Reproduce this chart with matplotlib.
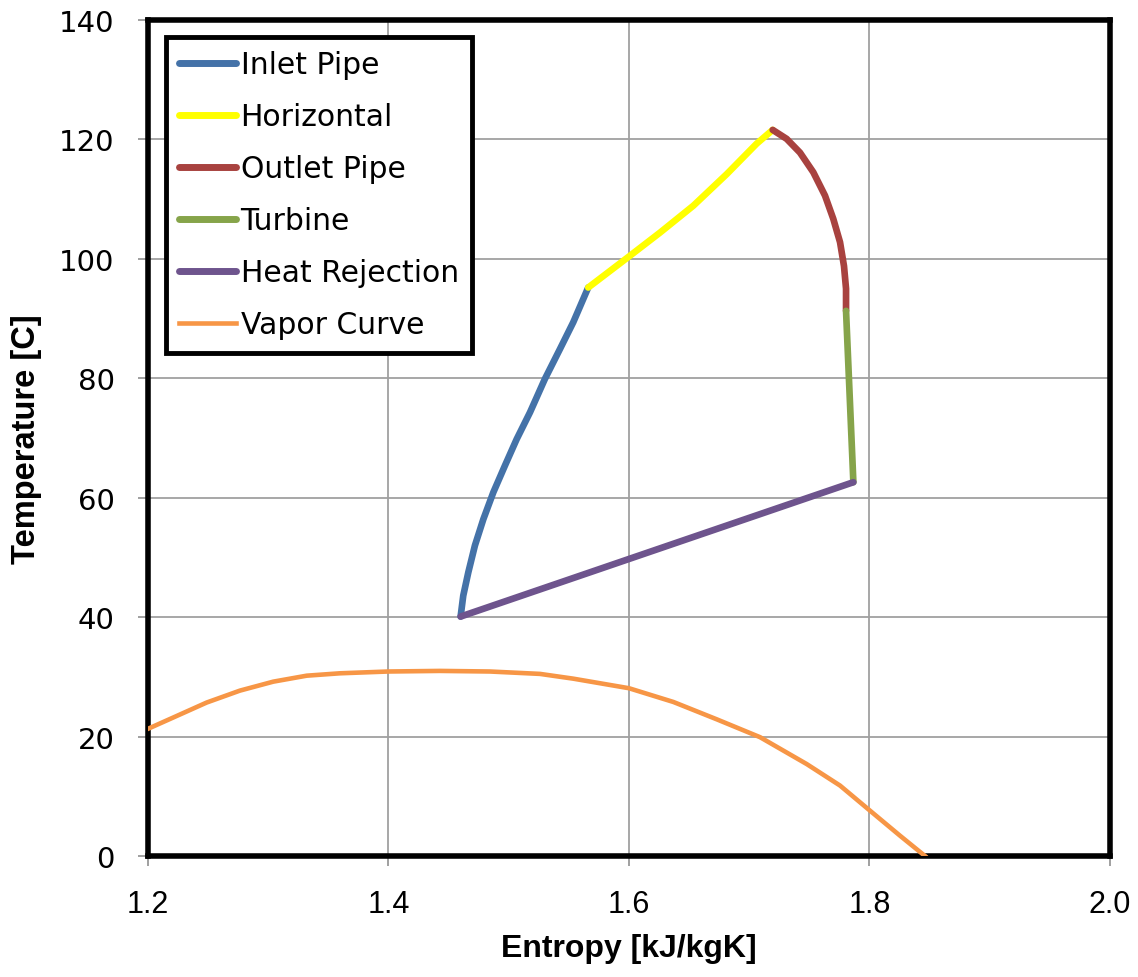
import numpy as np
import matplotlib as mpl
mpl.use('Agg')
import matplotlib.pyplot as plt

# process segments: entropy [kJ/kgK], temperature [C]
inlet_s = [1.4600, 1.4622, 1.4664, 1.4719, 1.4789, 1.4872, 1.4969, 1.5066,
           1.5177, 1.5301, 1.5426, 1.5537, 1.5661]
inlet_t = [40.1, 43.6, 47.5, 52.0, 56.4, 60.9, 65.4, 69.8,
           74.3, 79.9, 84.9, 89.4, 95.2]

horiz_s = [1.5661, 1.6000, 1.6258, 1.6535, 1.6813, 1.7062, 1.7195]
horiz_t = [95.2, 100.4, 104.4, 108.9, 114.2, 119.3, 121.6]

outlet_s = [1.7195, 1.7311, 1.7422, 1.7533, 1.7630, 1.7699, 1.7755, 1.7788,
            1.7805, 1.7805]
outlet_t = [121.6, 120.1, 117.8, 114.5, 110.6, 106.7, 102.8, 98.8,
            95.0, 91.3]

turb_s = [1.7805, 1.7866]
turb_t = [91.3, 62.6]

rej_s = [1.7866, 1.4600]
rej_t = [62.6, 40.1]

vapor_s = [1.2000, 1.2211, 1.2488, 1.2765, 1.3042, 1.3320, 1.3597, 1.3998,
           1.4428, 1.4844, 1.5260, 1.5537, 1.6000, 1.6369, 1.6729, 1.7090,
           1.7478, 1.7755, 1.8004, 1.8254, 1.8462]
vapor_t = [21.3, 23.2, 25.7, 27.7, 29.2, 30.2, 30.6, 30.9,
           31.0, 30.9, 30.5, 29.7, 28.1, 25.8, 22.9, 19.9,
           15.4, 11.8, 7.6, 3.4, 0.0]

xticks = [1.2, 1.4, 1.6, 1.8, 2.0]
yticks = [0, 20, 40, 60, 80, 100, 120, 140]

fig = plt.figure(figsize=(11.38, 9.78), dpi=100)
ax = fig.add_axes([0.130, 0.1237, 0.8454, 0.8548])

lw = 4.8
style = dict(lw=lw, solid_capstyle='round', solid_joinstyle='round', zorder=3)
ax.plot(inlet_s, inlet_t, color='#4472A8', label='Inlet Pipe', **style)
ax.plot(horiz_s, horiz_t, color='#FFFF00', label='Horizontal', **style)
ax.plot(outlet_s, outlet_t, color='#A8423F', label='Outlet Pipe', **style)
ax.plot(turb_s, turb_t, color='#86A44A', label='Turbine', **style)
ax.plot(rej_s, rej_t, color='#6E548D', label='Heat Rejection', **style)
ax.plot(vapor_s, vapor_t, color='#F79646', lw=3.3, label='Vapor Curve',
        solid_joinstyle='round', zorder=3)

ax.set_xlim(1.2, 2.0)
ax.set_ylim(0, 140)
ax.set_xticks(xticks)
ax.set_xticklabels(['%.1f' % v for v in xticks], family='Liberation Sans', fontsize=22)
ax.set_yticks(yticks)
ax.set_yticklabels([str(v) for v in yticks], family='DejaVu Sans', fontsize=21)
ax.tick_params(axis='both', direction='out', length=7, width=1.2, color='#909090', pad=17)
ax.grid(True, color='#A0A0A0', lw=1.3, zorder=0)
ax.set_axisbelow(True)
for sp in ax.spines.values():
    sp.set_linewidth(4)
    sp.set_color('black')

ax.set_xlabel('Entropy [kJ/kgK]', family='Liberation Sans', fontweight='bold', fontsize=23, labelpad=10)
ax.set_ylabel('Temperature [C]', family='Liberation Sans', fontweight='bold', fontsize=23.5, labelpad=12)

leg = ax.legend(loc='upper left', bbox_to_anchor=(0.0187, 0.98), borderaxespad=0,
                fancybox=False, framealpha=1, edgecolor='black', fontsize=21.5,
                handlelength=1.9, handletextpad=0.15, labelspacing=0.77, borderpad=0.45)
leg.get_frame().set_linewidth(3.5)
for line in leg.get_lines()[:5]:
    line.set_linewidth(5)
    line.set_solid_capstyle('round')
leg.get_lines()[5].set_linewidth(3.3)

plt.savefig('out.png', dpi=100)
